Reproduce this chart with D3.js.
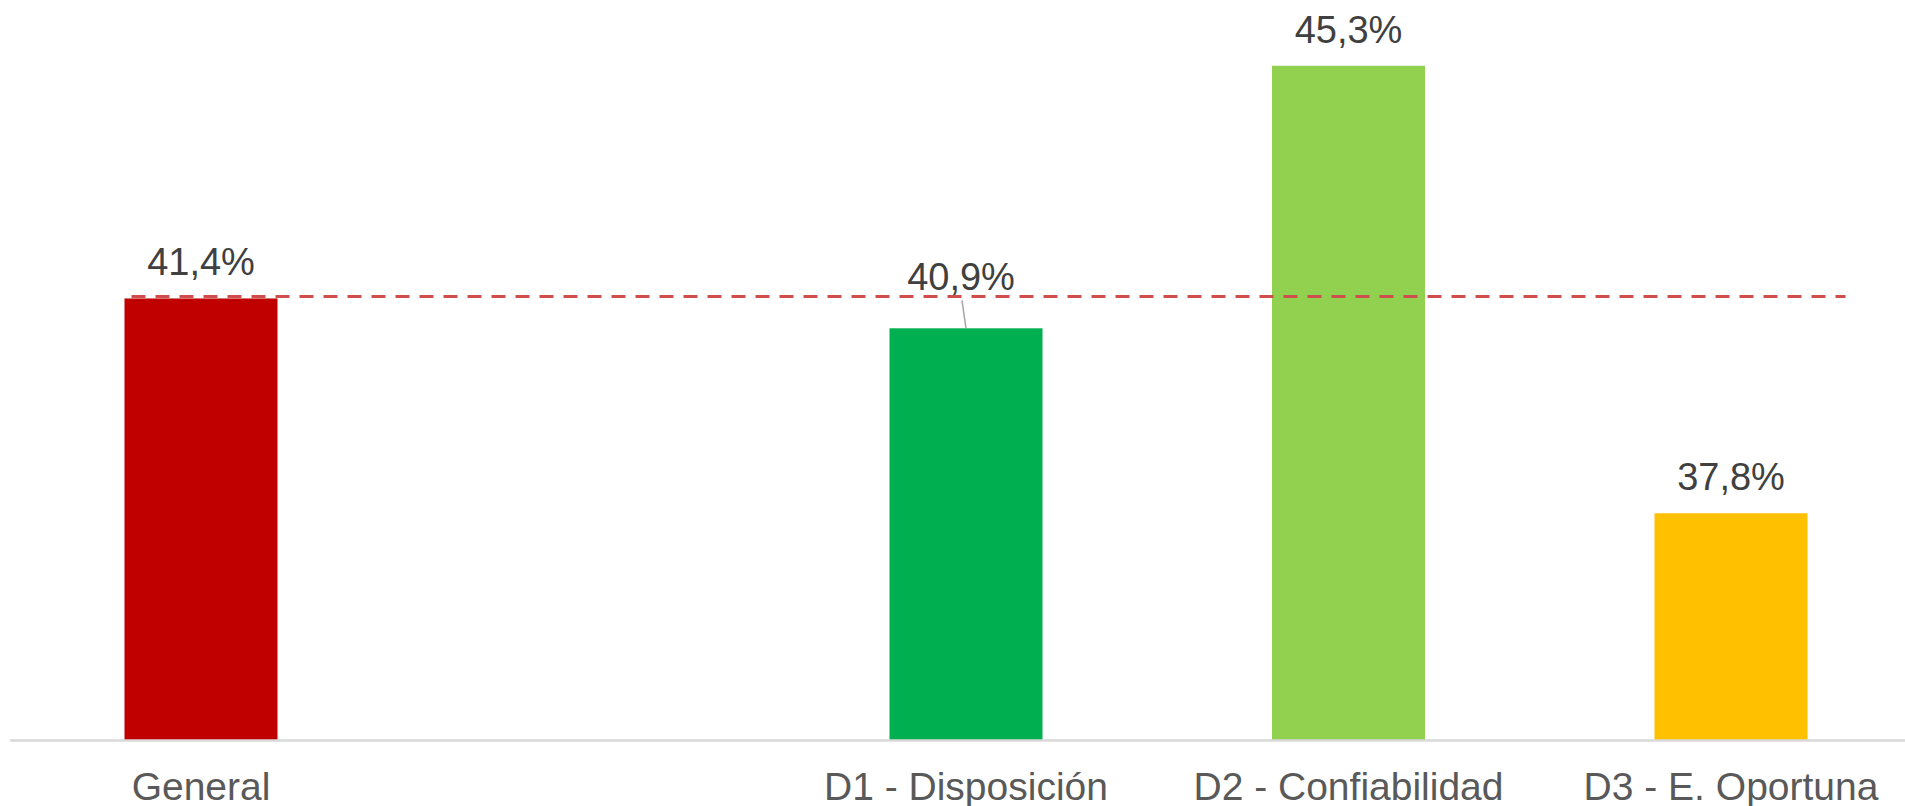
<!DOCTYPE html>
<html>
<head>
<meta charset="utf-8">
<script src="https://cdn.jsdelivr.net/npm/d3@7"></script>
<style>
    body { margin: 0; background: #fff; }
    svg { display: block; }
</style>
</head>
<body>
<script>
// data
const categories = ["General", "", "D1 - Disposición", "D2 - Confiabilidad", "D3 - E. Oportuna"];
const values = [41.4, null, 40.9, 45.3, 37.8];
const barColors = ["#C00000", "none", "#00B050", "#92D050", "#FFC000"];
const refValue = 41.4; // dashed line = general value

const width = 1905, height = 806;

var svg = d3.select("body")
    .append("svg")
    .attr("width", width)
    .attr("height", height);

var rows = categories.map((c, i) => ({cat: c, value: values[i], color: barColors[i]}));

// band scale runs a bit past the right edge, like the original
var x = d3.scaleBand()
    .domain(categories)
    .range([9.75, 1922.25])
    .paddingInner(0.6)
    .paddingOuter(0.3);

var y = d3.scaleLinear()
    .domain([34, 46])
    .range([740, 24]);

var locale = d3.formatLocale({decimal: ",", thousands: ".", grouping: [3], currency: ["", "€"]});
var fmt = v => locale.format(".1f")(v) + "%";

// bars
svg.append("g")
    .selectAll("rect")
    .data(rows.filter(d => d.value != null))
    .enter()
    .append("rect")
        .attr("x", d => x(d.cat))
        .attr("y", d => y(d.value))
        .attr("width", x.bandwidth())
        .attr("height", d => y.domain()[0] < d.value ? y(y.domain()[0]) - y(d.value) : 0)
        .attr("fill", d => d.color);

// x axis, no ticks
var xAxis = svg.append("g")
    .attr("transform", "translate(0," + y(y.domain()[0]) + ")")
    .call(d3.axisBottom(x).tickSize(0).tickPadding(32));

xAxis.select(".domain")
    .attr("stroke", "#d9d9d9")
    .attr("stroke-width", 2.5);

xAxis.selectAll("text")
    .attr("fill", "#595959")
    .style("font-family", "'Liberation Sans', Arial, sans-serif")
    .style("font-size", "39px");

// dashed reference line
svg.append("line")
    .attr("x1", x(categories[0]) + 7)
    .attr("x2", x(categories[categories.length - 1]) + x.bandwidth() + 38)
    .attr("y1", y(refValue) - 2)
    .attr("y2", y(refValue) - 2)
    .attr("stroke", "#cf4d4d")
    .attr("stroke-width", 3)
    .attr("stroke-dasharray", "14,10");

// value labels; D1's label is lifted off the dashed line with a leader
const moved = {cat: "D1 - Disposición", dx: -5, dy: -15};

var labels = svg.append("g")
    .selectAll("text")
    .data(rows.filter(d => d.value != null))
    .enter()
    .append("text")
        .text(d => fmt(d.value))
        .attr("x", d => x(d.cat) + x.bandwidth() / 2 + (d.cat == moved.cat ? moved.dx : 0))
        .attr("y", d => y(d.value) - 23 + (d.cat == moved.cat ? moved.dy : 0))
        .attr("text-anchor", "middle")
        .attr("fill", "#404040")
        .style("font-family", "'Liberation Sans', Arial, sans-serif")
        .style("font-size", "38px");

var m = rows.find(d => d.cat == moved.cat);
svg.append("line")
    .attr("x1", x(m.cat) + x.bandwidth() / 2 + moved.dx + 1)
    .attr("y1", y(m.value) + moved.dy - 13)
    .attr("x2", x(m.cat) + x.bandwidth() / 2)
    .attr("y2", y(m.value))
    .attr("stroke", "#a6a6a6")
    .attr("stroke-width", 1.5);
</script>
</body>
</html>
